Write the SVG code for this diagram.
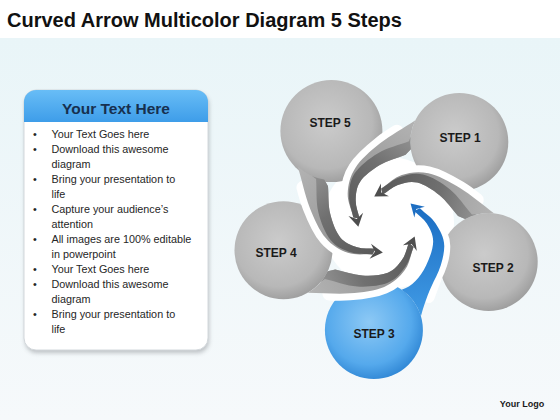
<svg xmlns="http://www.w3.org/2000/svg" xmlns:xlink="http://www.w3.org/1999/xlink" width="560" height="420" viewBox="0 0 560 420">
<defs>
<style>
.title{font-family:"Liberation Sans",Arial,sans-serif;font-weight:bold;font-size:20px;fill:#111}
.hdr{font-family:"Liberation Sans",Arial,sans-serif;font-weight:bold;font-size:15.5px;fill:#17304f;text-anchor:middle}
.li{font-family:"Liberation Sans",Arial,sans-serif;font-size:10.8px;fill:#262626}
.lbl{font-family:"Liberation Sans",Arial,sans-serif;font-weight:bold;font-size:12px;fill:#1a1a1a;text-anchor:middle}
.logo{font-family:"Liberation Sans",Arial,sans-serif;font-weight:bold;font-size:9px;fill:#1a1a1a;text-anchor:middle}
.halo{fill:none;stroke:#fff;stroke-width:14;stroke-linecap:round;stroke-linejoin:round}
</style>
<linearGradient id="bg" x1="0" y1="0" x2="0" y2="1"><stop offset="0" stop-color="#e9f5f8"/><stop offset="1" stop-color="#f6f9fb"/></linearGradient>
<radialGradient id="gc" cx="0.45" cy="0.42" r="0.6"><stop offset="0" stop-color="#cbcbcb"/><stop offset="0.75" stop-color="#b8b8b8"/><stop offset="1" stop-color="#9d9d9d"/></radialGradient>
<radialGradient id="bc" cx="0.45" cy="0.42" r="0.6"><stop offset="0" stop-color="#8dc9f5"/><stop offset="0.72" stop-color="#55a9ec"/><stop offset="1" stop-color="#3087d5"/></radialGradient>
<linearGradient id="neck" gradientUnits="userSpaceOnUse" x1="95" y1="-45" x2="-18" y2="-28"><stop offset="0" stop-color="#b3b3b3"/><stop offset="1" stop-color="#8c8c8c"/></linearGradient>
<linearGradient id="band" gradientUnits="userSpaceOnUse" x1="78" y1="-38" x2="-18" y2="-28"><stop offset="0" stop-color="#909090"/><stop offset="0.4" stop-color="#707070"/><stop offset="1" stop-color="#5a5a5a"/></linearGradient>
<linearGradient id="blueband" gradientUnits="userSpaceOnUse" x1="85" y1="-40" x2="-18" y2="-28"><stop offset="0" stop-color="#3f99e4"/><stop offset="1" stop-color="#1c6ec3"/></linearGradient>
<linearGradient id="hdrg" x1="0" y1="0" x2="0" y2="1"><stop offset="0" stop-color="#68bdf6"/><stop offset="1" stop-color="#3e9de9"/></linearGradient>
<filter id="sh" x="-10%" y="-10%" width="120%" height="120%"><feGaussianBlur stdDeviation="2"/></filter>
<path id="neckShape" d="M95.3,-47.3 C81.7,-51 67.2,-56.2 54.6,-58.5 C42,-60.8 29.6,-62.4 19.8,-60.9 C10,-59.5 2,-55 -4.4,-49.8 C-10.8,-44.6 -13.9,-36.3 -18.7,-29.7 L-15.3,-24.3 C-11.7,-29.2 -9.2,-35 -4.5,-39 C0.2,-43 5.6,-47.3 12.7,-48.2 C19.8,-49.1 29.8,-47.1 38.1,-44.4 C46.5,-41.7 54.6,-36 62.8,-31.8 L70.5,-31.5 A49,49 0 0 1 95.3,-47.3 Z"/>
<path id="bandShape" d="M79.9,-40.1 L75.2,-38.2 C65.4,-43.3 55.9,-50.3 45.9,-53.6 C35.9,-56.9 23.9,-58.9 15.3,-57.8 C6.7,-56.7 0.2,-51.7 -5.5,-47 C-11.2,-42.3 -14.3,-35.5 -18.7,-29.7 L-15.3,-24.3 C-11.7,-29.2 -9.2,-35 -4.5,-39 C0.2,-43 5.6,-47.3 12.7,-48.2 C19.8,-49.1 29.8,-47.1 38.1,-44.4 C46.5,-41.7 54.6,-36 62.8,-31.8 L70.5,-31.5 A49,49 0 0 1 79.9,-40.1 Z"/>
<path id="haloShape" d="M74.5,-53.4 C67.7,-55.5 60.9,-57.35 54.6,-58.5 C42,-60.8 29.6,-62.4 19.8,-60.9 C10,-59.5 2,-55 -4.4,-49.8 C-10.8,-44.6 -13.9,-36.3 -18.7,-29.7"/>
<path id="head" d="M-22.4,-19.8 L-8.8,-25.4 L-17.6,-26.2 L-20.8,-34.4 Z"/>
</defs>

<rect width="560" height="420" fill="#ffffff"/>
<rect y="38" width="560" height="382" fill="url(#bg)"/>
<text class="title" x="7" y="27">Curved Arrow Multicolor Diagram 5 Steps</text>

<g id="panel">
<rect x="25" y="93" width="184" height="260" rx="12" fill="#7a7f84" opacity="0.45" filter="url(#sh)"/>
<rect x="24" y="90" width="184" height="260" rx="12" fill="#ffffff" stroke="#d3d8dc" stroke-width="1"/>
<path d="M24,122 V102 A12,12 0 0 1 36,90 H196 A12,12 0 0 1 208,102 V122 Z" fill="url(#hdrg)"/>
<text class="hdr" x="116" y="114">Your Text Here</text>
<g class="li">
<text x="33" y="138">•</text><text x="51.5" y="138">Your Text Goes here</text>
<text x="33" y="153">•</text><text x="51.5" y="153">Download this awesome</text>
<text x="51.5" y="168">diagram</text>
<text x="33" y="183">•</text><text x="51.5" y="183">Bring your presentation to</text>
<text x="51.5" y="198">life</text>
<text x="33" y="213">•</text><text x="51.5" y="213">Capture your audience’s</text>
<text x="51.5" y="228">attention</text>
<text x="33" y="243">•</text><text x="51.5" y="243">All images are 100% editable</text>
<text x="51.5" y="258">in powerpoint</text>
<text x="33" y="273">•</text><text x="51.5" y="273">Your Text Goes here</text>
<text x="33" y="288">•</text><text x="51.5" y="288">Download this awesome</text>
<text x="51.5" y="303">diagram</text>
<text x="33" y="318">•</text><text x="51.5" y="318">Bring your presentation to</text>
<text x="51.5" y="333">life</text>
</g>
</g>

<circle cx="388" cy="223" r="66" fill="#ffffff"/>

<g id="step1"><circle cx="459.3" cy="141.9" r="49" fill="url(#gc)"/><text class="lbl" x="460" y="141.5">STEP 1</text></g>
<g id="step2"><circle cx="488.7" cy="261.9" r="49" fill="url(#gc)"/><text class="lbl" x="493" y="271.5">STEP 2</text></g>
<g id="step3"><circle cx="373.9" cy="330.1" r="49" fill="url(#bc)"/><text class="lbl" x="374" y="338">STEP 3</text></g>
<g id="step4"><circle cx="283.5" cy="250.2" r="49" fill="url(#gc)"/><text class="lbl" x="276" y="256.5">STEP 4</text></g>
<g id="step5"><circle cx="331.4" cy="131.1" r="51" fill="url(#gc)"/><text class="lbl" x="330" y="126.5">STEP 5</text></g>

<g id="connectors">
<g transform="translate(388 223) rotate(-48.7)">
<use xlink:href="#haloShape" class="halo"/>
<use xlink:href="#neckShape" fill="url(#neck)"/>
<use xlink:href="#bandShape" fill="url(#band)"/>
<use xlink:href="#head" fill="#4e4e4e"/>
</g>
<g transform="translate(388 223) rotate(21.1)">
<use xlink:href="#haloShape" class="halo"/>
<use xlink:href="#neckShape" fill="url(#neck)"/>
<use xlink:href="#bandShape" fill="url(#band)"/>
<use xlink:href="#head" fill="#4e4e4e"/>
</g>
<g transform="translate(388 223) rotate(165.4)">
<use xlink:href="#haloShape" class="halo"/>
<use xlink:href="#neckShape" fill="url(#neck)"/>
<use xlink:href="#bandShape" fill="url(#band)"/>
<use xlink:href="#head" fill="#4e4e4e"/>
</g>
<g transform="translate(388 223) rotate(238.4)">
<use xlink:href="#haloShape" class="halo"/>
<use xlink:href="#neckShape" fill="url(#neck)"/>
<use xlink:href="#bandShape" fill="url(#band)"/>
<use xlink:href="#head" fill="#4e4e4e"/>
</g>
<g transform="translate(388 223) rotate(97.5)">
<path class="halo" style="stroke-width:12" d="M68,-50 L46.9,-54.7 C36.5,-58.3 24,-60 15.5,-58.8 C6.8,-57.6 0.3,-52.3 -5.5,-47.5 C-11.3,-42.7 -14.3,-35.5 -18.7,-29.7"/>
<path fill="url(#blueband)" d="M88.1,-44.8 C72,-47 60,-50 46.9,-54.7 C36.5,-58.3 24,-60 15.5,-58.8 C6.8,-57.6 0.3,-52.3 -5.5,-47.5 C-11.3,-42.7 -14.3,-35.5 -18.7,-29.7 L-15.3,-24.3 C-11.7,-29.2 -9.2,-34.6 -4.5,-38.5 C0.2,-42.4 5.5,-46.3 12.5,-47.2 C19.5,-48.1 29,-46 37.1,-43.3 C50,-39 60,-32 64.3,-22.2 A49,49 0 0 1 88.1,-44.8 Z"/>
<use xlink:href="#head" fill="#1d6ec2"/>
</g>
</g>

<text class="logo" x="522" y="407">Your Logo</text>
</svg>
